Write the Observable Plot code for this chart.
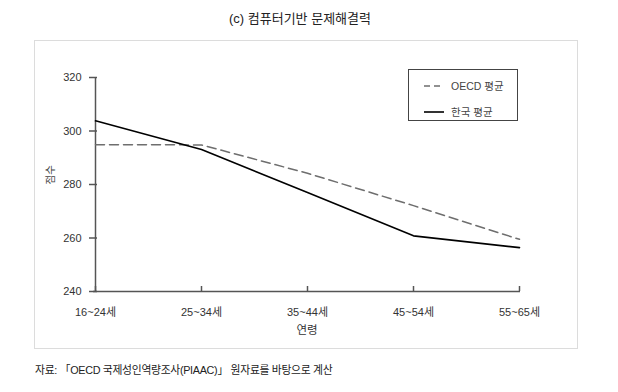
<!DOCTYPE html>
<html>
<head>
<meta charset="utf-8">
<script src="https://cdn.jsdelivr.net/npm/d3@7"></script>
<script src="https://cdn.jsdelivr.net/npm/@observablehq/plot@0.6"></script>
<style>
  html, body { margin: 0; padding: 0; background: #fff; }
  #wrap { position: relative; width: 618px; height: 392px; overflow: hidden;
          font-family: "Liberation Sans", "Noto Sans CJK KR", sans-serif; color: #333; }
  #wrap svg { position: absolute; left: 0; top: 0; }
  #frame { position: absolute; left: 34px; top: 40px; width: 544px; height: 309px;
           border: 1.5px solid #dcdcdc; box-sizing: border-box; }
  #title { position: absolute; left: 0; width: 600px; top: 8px; text-align: center;
           font-size: 13px; color: #222; }
  #caption { position: absolute; left: 35px; top: 361px; font-size: 10.8px; letter-spacing: -0.3px; color: #222; }
  #legend { position: absolute; left: 408px; top: 69px; width: 110px; height: 52px;
            border: 1px solid #444; box-sizing: border-box; background: #fff; }
  .li { position: absolute; left: 15px; font-size: 10.5px; color: #444; display: flex; align-items: center; }
  .li svg { position: static !important; margin-right: 7px; }
</style>
</head>
<body>
<div id="wrap">
  <div id="frame"></div>
  <div id="title">(c) 컴퓨터기반 문제해결력</div>
  <div id="chart"></div>
  <div id="legend"></div>
  <div id="caption">자료: 「OECD 국제성인역량조사(PIAAC)」 원자료를 바탕으로 계산</div>
</div>
<script>
const categories = ["16~24세", "25~34세", "35~44세", "45~54세", "55~65세"];
const koreaValues = [303.8, 293.1, 277.0, 260.8, 256.4];
const oecdValues = [294.9, 294.8, 284.2, 272.1, 259.5];
const yTicks = [240, 260, 280, 300, 320];
const seriesNames = ["OECD 평균", "한국 평균"];
const xTitle = "연령";
const yTitle = "점수";

const korea = categories.map((c, i) => ({age: c, value: koreaValues[i]}));
const oecd = categories.map((c, i) => ({age: c, value: oecdValues[i]}));

const axisColor = "#555";
const chart = Plot.plot({
  width: 618,
  height: 392,
  marginLeft: 93,
  marginRight: 98,
  marginTop: 77,
  marginBottom: 101,
  style: {fontFamily: "'Liberation Sans', 'Noto Sans CJK KR', sans-serif", background: "transparent", color: "#333"},
  x: {type: "point", domain: categories, padding: 0},
  y: {domain: [240, 320]},
  marks: [
    Plot.axisY({ticks: yTicks, tickSize: 8, dx: 4, text: null, stroke: axisColor, strokeWidth: 1.5, label: null}),
    Plot.axisY({ticks: yTicks, tickSize: 0, tickPadding: 12, fontSize: 11, fill: "#333", label: null}),
    Plot.axisX({tickSize: 5, dy: -5, text: null, stroke: axisColor, strokeWidth: 1.5, label: null}),
    Plot.axisX({tickSize: 0, tickPadding: 17, fontSize: 11, fill: "#333", label: null}),
    Plot.ruleX([categories[0]], {stroke: axisColor, strokeWidth: 1.5}),
    Plot.ruleY([240], {stroke: axisColor, strokeWidth: 1.5}),
    Plot.line(oecd, {x: "age", y: "value", stroke: "#6e6e6e", strokeWidth: 1.5, strokeDasharray: "9,5"}),
    Plot.line(korea, {x: "age", y: "value", stroke: "#000", strokeWidth: 1.6}),
    Plot.text([yTitle], {frameAnchor: "left", dx: -43, rotate: -90, fontSize: 10.5, fill: "#444"}),
    Plot.text([xTitle], {frameAnchor: "bottom", dy: 42, fontSize: 11.5, fill: "#333"})
  ]
});
document.getElementById("chart").appendChild(chart);

const legend = document.getElementById("legend");
const styles = [{dash: "6,4", color: "#6e6e6e"}, {dash: null, color: "#000"}];
seriesNames.forEach((name, i) => {
  const row = document.createElement("div");
  row.className = "li";
  row.style.top = (i === 0 ? 8 : 34) + "px";
  const s = d3.create("svg").attr("width", 20).attr("height", 10);
  s.append("line").attr("x1", 0).attr("x2", 20).attr("y1", 5).attr("y2", 5)
    .attr("stroke", styles[i].color).attr("stroke-width", 1.6)
    .attr("stroke-dasharray", styles[i].dash);
  row.appendChild(s.node());
  const t = document.createElement("span");
  t.textContent = name;
  row.appendChild(t);
  legend.appendChild(row);
});
</script>
</body>
</html>
